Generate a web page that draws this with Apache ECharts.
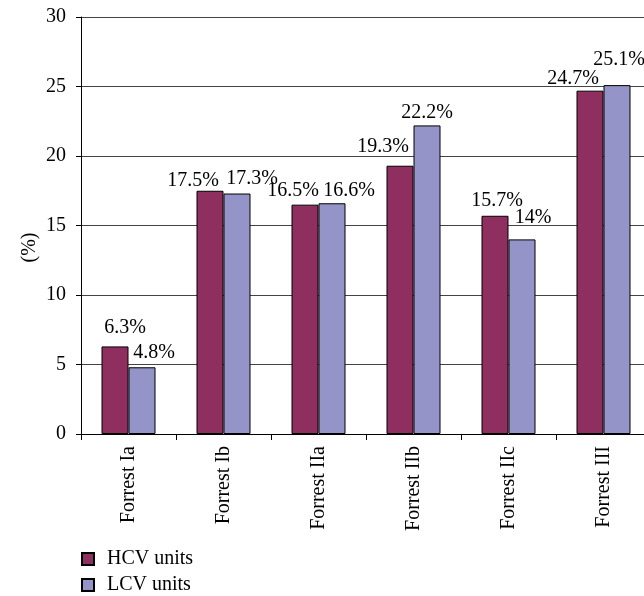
<!DOCTYPE html>
<html>
<head>
<meta charset="utf-8">
<style>
  html, body { margin: 0; padding: 0; background: #fff; }
  #chart { width: 644px; height: 596px; }
</style>
<script src="https://cdn.jsdelivr.net/npm/echarts@6/dist/echarts.min.js"></script>
</head>
<body>
<div id="chart"></div>
<script>
// categories and values
const categories = ['Forrest Ia', 'Forrest Ib', 'Forrest IIa', 'Forrest IIb', 'Forrest IIc', 'Forrest III']
const hcvUnits = [6.3, 17.5, 16.5, 19.3, 15.7, 24.7]
const lcvUnits = [4.8, 17.3, 16.6, 22.2, 14, 25.1]

// label nudges so the value labels sit like in the original (style only)
const hcvLabelShift = [[10, -5], [-17, 4], [-12, 0], [-17, -5], [2, -1], [-17, 2]]
const lcvLabelShift = [[12, -1], [15, -1], [17, 1], [0, 1], [11, -8], [2, -11]]

const font = 'Liberation Serif'

const chart = echarts.init(document.getElementById('chart'))

// 把数值和标签偏移拼成 data item
function withLabels(values, shifts) {
  return values.map((v, i) => ({ value: v, label: { offset: shifts[i] } }))
}

const barLabel = {
  show: true,
  position: 'top',
  distance: 4,
  color: '#000',
  fontFamily: font,
  fontSize: 20,
  formatter: '{c}%',
}

chart.setOption({
  animation: false,
  textStyle: { fontFamily: font },
  grid: {
    left: 81,
    top: 17,
    width: 570, // the last category runs past the right edge, as in the original
    height: 417,
    outerBoundsMode: 'none',
    containLabel: false,
  },
  legend: {
    orient: 'vertical',
    left: 81,
    top: 549,
    height: 47,
    padding: 0,
    itemWidth: 12,
    itemHeight: 12,
    itemGap: 6,
    icon: 'rect',
    textStyle: { fontFamily: font, fontSize: 20, lineHeight: 20, color: '#000', padding: [0, 0, 0, 8] },
    data: ['HCV units', 'LCV units'],
  },
  xAxis: {
    type: 'category',
    data: categories,
    axisLine: { lineStyle: { color: '#000', width: 1 } },
    axisTick: { show: true, length: 6, lineStyle: { color: '#000' } },
    axisLabel: {
      rotate: 90,
      margin: 12,
      color: '#000',
      fontFamily: font,
      fontSize: 20,
    },
  },
  yAxis: {
    type: 'value',
    min: 0,
    max: 30,
    interval: 5,
    name: '(%)',
    nameLocation: 'middle',
    nameRotate: 90,
    nameGap: 41,
    nameMoveOverlap: false,
    nameTextStyle: { color: '#000', fontFamily: font, fontSize: 20, padding: [0, 44, 0, 0] },
    axisLine: { show: true, lineStyle: { color: '#000', width: 1 } },
    axisTick: { show: true, length: 5, lineStyle: { color: '#000' } },
    axisLabel: { margin: 15, color: '#000', fontFamily: font, fontSize: 20 },
    splitLine: { show: true, lineStyle: { color: '#444', width: 1 } },
  },
  series: [
    {
      name: 'HCV units',
      type: 'bar',
      barWidth: 27,
      barGap: '0%',
      data: withLabels(hcvUnits, hcvLabelShift),
      itemStyle: { color: '#8E2F5F', borderColor: '#000', borderWidth: 1 },
      label: barLabel,
    },
    {
      name: 'LCV units',
      type: 'bar',
      barWidth: 27,
      barGap: '0%',
      data: withLabels(lcvUnits, lcvLabelShift),
      itemStyle: { color: '#9494C9', borderColor: '#000', borderWidth: 1 },
      label: barLabel,
    },
  ],
})
</script>
</body>
</html>
